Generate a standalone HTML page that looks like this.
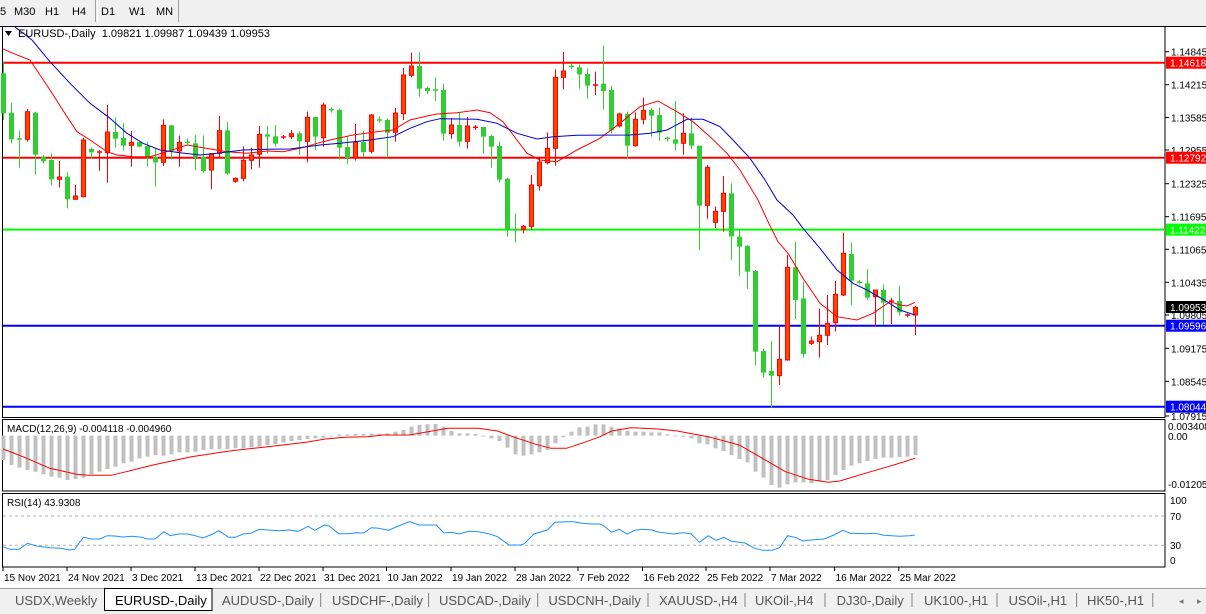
<!DOCTYPE html>
<html><head><meta charset="utf-8">
<style>
html,body{margin:0;padding:0;background:#fff;}
body{width:1206px;height:614px;overflow:hidden;position:relative;font-family:"Liberation Sans",sans-serif;}
svg{position:absolute;left:0;top:0;}
</style></head>
<body>
<svg id="s" width="1206" height="614" xmlns="http://www.w3.org/2000/svg" font-family="Liberation Sans, sans-serif"></svg>
<script>
var NS="http://www.w3.org/2000/svg",S=document.getElementById('s'),out='';
function R(x,y,w,h,f,st){out+='<rect x="'+x+'" y="'+y+'" width="'+w+'" height="'+h+'" fill="'+f+'"'+(st?' stroke="'+st+'" stroke-width="1"':'')+'/>';}
function L(x1,y1,x2,y2,c,w,d){out+='<line x1="'+x1+'" y1="'+y1+'" x2="'+x2+'" y2="'+y2+'" stroke="'+c+'" stroke-width="'+(w||1)+'"'+(d?' stroke-dasharray="'+d+'"':'')+'/>';}
function T(x,y,t,sz,c,anc){out+='<text x="'+x+'" y="'+y+'" font-size="'+(sz||11)+'" fill="'+(c||'#000')+'"'+(anc?' text-anchor="'+anc+'"':'')+'>'+t+'</text>';}
function P(pts,c,w){out+='<polyline fill="none" stroke="'+c+'" stroke-width="'+(w||1)+'" points="'+pts.map(function(p){return p[0].toFixed(1)+','+p[1].toFixed(1)}).join(' ')+'"/>';}
// toolbar
R(0,0,1206,25,'#f0f0f0');
T(0,15,'5',11,'#000');T(14,15,'M30',11);T(45,15,'H1',11);T(72,15,'H4',11);
L(95.5,0,95.5,22,'#a0a0a0');L(97.5,0,97.5,22,'#fff');
T(101,15,'D1',11);T(129,15,'W1',11);T(156,15,'MN',11);
L(178.5,0,178.5,22,'#a0a0a0');
// panels frames
R(2.5,26.5,1162.5,391,'#fff','#000');
R(2.5,419.5,1162.5,71.5,'#fff','#000');
R(2.5,493.5,1162.5,73.5,'#fff','#000');
// horizontal lines
L(3,62.7,1165,62.7,'#ff0000',2);L(3,157.7,1165,157.7,'#ff0000',2);
L(3,229.6,1165,229.6,'#00ff00',2);L(3,325.7,1165,325.7,'#0000ff',2);L(3,406.7,1165,406.7,'#0000ff',2);
// candles: type, bodyTop, bodyBot, wickTop, wickBot (zy units: y=40+v/3)
var C=[
['G',100,220,65,240],['G',218,298,188,310],['G',297,297,272,383],['R',215,298,207,305],['G',218,344,215,404],
['G',350,364,345,370],['G',360,418,340,435],['R',411,418,363,443],['G',410,478,396,505],['R',468,478,435,478],
['R',300,470,293,472],['G',327,337,322,356],['R',336,336,330,392],['R',276,338,195,428],['G',276,296,232,323],
['G',294,317,250,332],['R',307,316,273,380],['G',306,320,306,322],['G',318,352,305,380],['G',351,367,325,440],
['R',256,367,238,378],['G',256,333,255,358],['R',307,333,287,380],['G',307,307,296,313],['G',310,353,285,390],
['G',351,393,286,398],['R',341,390,341,448],['R',272,340,228,355],['G',271,401,246,404],['R',415,424,412,428],
['R',361,415,319,424],['R',345,361,323,388],['R',283,343,258,383],['G',283,290,258,341],['G',289,311,255,320],
['R',291,291,285,297],['R',281,290,270,297],['G',280,304,274,345],['R',232,304,215,367],['G',231,290,231,330],
['R',195,293,188,320],['G',209,209,202,218],['G',210,323,205,358],['G',321,354,290,372],['R',306,354,252,362],
['G',306,336,273,352],['R',225,334,222,341],['G',240,240,229,248],['G',240,278,235,352],['R',219,277,204,305],
['R',105,221,84,240],['R',78,106,38,112],['G',78,146,36,170],['G',144,153,140,162],['G',150,150,113,183],
['G',150,281,131,302],['R',255,281,234,296],['G',255,305,216,320],['R',258,304,231,326],['R',262,262,255,270],
['G',261,290,261,341],['G',288,320,285,383],['G',318,419,305,428],['G',416,569,413,590],['G',569,569,521,607],
['R',559,569,555,580],['R',435,559,405,570],['R',366,437,350,452],['R',325,368,277,373],['R',112,325,88,377],
['R',93,112,36,148],['G',79,79,72,88],['G',82,103,73,146],['G',102,137,85,176],['R',135,135,95,165],
['G',131,153,17,208],['G',150,271,138,280],['R',222,258,218,263],['G',222,317,215,355],['R',238,317,217,320],
['R',211,238,173,253],['G',210,227,203,290],['G',225,278,203,302],['G',295,295,290,305],['G',298,311,183,332],
['R',280,310,220,344],['G',280,317,233,327],['G',317,497,317,630],['R',382,496,375,536],['R',514,547,500,564],
['R',460,514,408,575],['G',460,589,430,660],['G',590,620,570,708],['G',618,695,615,747],['G',693,935,690,977],
['G',933,998,925,1013],['G',993,1007,903,1103],['R',958,1007,860,1035],['R',682,960,645,962],['G',682,780,606,837],
['G',775,942,725,953],['R',903,910,890,915],['R',886,905,806,953],['R',850,886,765,915],['R',763,848,723,875],
['R',640,765,578,768],['G',642,722,608,795],['G',727,727,720,733],['G',730,773,687,780],['R',750,770,750,860],
['G',750,788,733,855],['R',783,783,773,852],['G',783,817,738,827],['R',825,825,820,832],['R',802,825,798,885]];
function Y(v){return 40+v/3;}
C.forEach(function(c,i){
 var x=3.5+8*i, col=c[0]=='G'?'#32cd32':'#ff0000';
 L(x,Y(c[3]),x,Y(c[4]),col,1);
 var t=Y(c[1]),b=Y(c[2]);
 if(b-t<1.2){L(x-2.5,t,x+2.5,t,col,1.5);}
 else if(c[0]=='G'){R(x-2.5,t,5,b-t,'#32cd32');}
 else{R(x-2,t,4,b-t,'#ff4500','#ff0000');}
});
// MAs
var red=[[3,27],[13,40],[30,60],[50,150],[67,230],[77,275],[90,300],[107,335],[117,345],[133,350],[150,350],[167,335],[187,315],[200,322],[227,335],[247,340],[267,333],[283,335],[300,325],[317,310],[330,300],[353,285],[377,275],[393,270],[410,240],[427,228],[437,222],[457,218],[477,210],[490,218],[503,245],[517,300],[527,340],[540,360],[557,365],[577,330],[600,295],[620,250],[640,200],[658,183],[677,215],[693,245],[710,290],[727,340],[740,390],[750,440],[758,480],[768,545],[778,605],[788,640],[803,715],[820,790],[837,830],[857,840],[873,820],[890,785],[900,795],[907,798],[915,787]];
var blue=[[15,-40],[32,0],[50,65],[70,130],[90,190],[110,235],[127,280],[143,310],[160,330],[180,338],[200,345],[217,340],[243,330],[267,328],[290,327],[320,315],[340,310],[370,300],[393,290],[410,265],[427,245],[440,236],[477,238],[497,250],[517,280],[537,297],[553,290],[577,286],[630,285],[650,280],[667,270],[687,238],[703,238],[720,260],[733,300],[750,355],[765,420],[777,480],[793,525],[803,565],[820,625],[837,690],[853,730],[867,750],[887,785],[900,810],[915,825]];
P(red.map(function(p){return[p[0],Y(p[1])]}),'#ff0000',1);
P(blue.map(function(p){return[p[0],Math.max(27,Y(p[1]))]}),'#0000cd',1);
// cover MA above frame
R(0,0,1206,26,'#f0f0f0');
L(0,26.5,1206,26.5,'#000');
T(0,15,'5',11);T(14,15,'M30',11);T(45,15,'H1',11);T(72,15,'H4',11);
L(95.5,0,95.5,22,'#a0a0a0');L(97.5,0,97.5,22,'#fff');
T(101,15,'D1',11);T(129,15,'W1',11);T(156,15,'MN',11);L(178.5,0,178.5,22,'#a0a0a0');
// title
out+='<polygon points="5,31 12,31 8.5,36" fill="#000"/>';
T(18,37,'EURUSD-,Daily&#160; 1.09821 1.09987 1.09439 1.09953',11);
// price axis
[['1.14845',51.7],['1.14215',84.7],['1.13585',117.5],['1.12955',150],['1.12325',183.7],['1.11695',216.7],['1.11065',249.3],['1.10435',282.3],['1.09805',315],['1.09175',348.3],['1.08545',381.3],['1.07915',416]].forEach(function(a){L(1165,a[1],1169,a[1],'#000');T(1171,a[1]+4,a[0],10);});
[['1.14618',62.7,'#ff0000'],['1.12792',157.7,'#ff0000'],['1.11422',229.6,'#00ff00'],['1.09953',307,'#000'],['1.09596',325.7,'#0000ff'],['1.08044',406.7,'#0000ff']].forEach(function(a){R(1166,a[1]-6,40,12,a[2]);T(1170,a[1]+4,a[0],10,'#fff');});
// MACD
var hist=[135,150,158,165,170,178,185,188,195,192,188,178,170,162,155,145,140,130,125,120,122,118,112,112,110,105,103,103,102,100,100,97,95,90,87,82,78,75,72,70,68,63,58,58,57,57,56,56,55,50,45,35,30,28,27,35,48,55,55,57,62,70,78,98,118,122,118,112,105,85,67,50,37,35,28,
28,35,40,47,50,50,52,52,58,64,65,70,85,88,100,108,120,132,142,170,188,210,218,208,202,202,205,200,195,180,165,152,145,138,132,128,128,126,125,120];
var z0=415+62/3;
hist.forEach(function(v,i){var x=3.5+8*i,y=415+v/3;R(x-2,Math.min(y,z0),4,Math.max(0.8,Math.abs(y-z0)),'#c0c0c0');});
var sig4=[[8,102],[60,125],[130,160],[200,178],[230,181],[290,181],[330,170],[400,150],[500,125],[600,108],[700,95],[800,82],[850,72],[900,67],[960,65],[1000,60],[1070,60],[1170,40],[1250,40],[1300,48],[1340,65],[1400,88],[1440,100],[1480,100],[1520,85],[1568,65]];
var sig5=[[30,48],[80,38],[150,42],[200,48],[280,65],[360,90],[420,130],[480,170],[540,193],[590,202],[620,198],[700,170],[760,150],[815,130]];
P(sig4.map(function(p){return[p[0]/2.613,415+p[1]/3]}).concat(sig5.map(function(p){return[600+p[0]/2.587,415+p[1]/3]})),'#ff0000',1);
T(7,432,'MACD(12,26,9) -0.004118 -0.004960',10);
T(1168,430,'0.003408',10);T(1168,440,'0.00',10);T(1168,488,'-0.012054',10);
// RSI
L(3,516,1165,516,'#b0b0b0',1,'3,3');L(3,545.3,1165,545.3,'#b0b0b0',1,'3,3');
var r4=[[8,395],[25,403],[50,403],[72,385],[95,393],[130,398],[160,400],[180,405],[195,403],[218,367],[240,372],[260,372],[280,362],[300,363],[320,366],[345,364],[370,367],[385,372],[405,372],[428,350],[445,362],[465,357],[490,357],[510,362],[530,369],[550,360],[572,347],[597,367],[615,367],[635,357],[655,355],[678,343],[700,345],[730,347],[755,345],[780,349],[805,334],[822,346],[848,330],[860,333],[885,356],[910,356],[930,353],[950,354],[970,338],[990,340],[1015,346],[1035,336],[1070,320],[1095,330],[1120,330],[1140,330],[1160,354],[1180,352],[1200,357],[1225,349],[1250,350],[1280,357],[1300,365],[1330,390],[1360,390],[1370,386],[1395,357],[1430,345],[1450,322],[1480,320],[1500,320],[1520,325],[1545,327],[1568,327]];
var r5=[[10,333],[30,352],[50,343],[70,357],[90,346],[110,343],[135,345],[150,351],[190,357],[215,353],[235,356],[258,382],[280,362],[300,376],[320,367],[340,379],[375,384],[400,400],[420,406],[445,406],[465,398],[485,362],[505,367],[525,378],[545,375],[580,372],[605,360],[628,346],[648,355],[690,356],[710,355],[735,361],[775,364],[800,362],[815,360]];
P(r4.map(function(p){return[p[0]/2.613,415+p[1]/3]}).concat(r5.map(function(p){return[600+p[0]/2.587,415+p[1]/3]})),'#1e90ff',1);
T(7,506,'RSI(14) 43.9308',10);
T(1170,504,'100',10);T(1170,520,'70',10);T(1170,549,'30',10);T(1170,564,'0',10);
// dates
[['15 Nov 2021',3],['24 Nov 2021',67],['3 Dec 2021',131],['13 Dec 2021',195],['22 Dec 2021',259],['31 Dec 2021',323],['10 Jan 2022',386.5],['19 Jan 2022',451],['28 Jan 2022',515],['7 Feb 2022',578],['16 Feb 2022',642.5],['25 Feb 2022',706],['7 Mar 2022',770],['16 Mar 2022',834.6],['25 Mar 2022',898.8]].forEach(function(a,i){L(a[0]=='15 Nov 2021'?3:a[1],567,a[0]=='15 Nov 2021'?3:a[1],571,'#000');T(a[1]+1,581,a[0],10);});
// tabs
R(0,588,1206,26,'#f0f0f0');L(0,588.5,1206,588.5,'#a0a0a0');
R(104.5,588.5,107.5,22,'#fff','#000');
[['USDX,Weekly',15],['AUDUSD-,Daily',222],['USDCHF-,Daily',332],['USDCAD-,Daily',439],['USDCNH-,Daily',548.4],['XAUUSD-,H4',659],['UKOil-,H4',755],['DJ30-,Daily',836.6],['UK100-,H1',924],['USOil-,H1',1008.6],['HK50-,H1',1087]].forEach(function(a){T(a[1],605,a[0],13,'#555');});
T(115,605,'EURUSD-,Daily',13,'#000');
[320.7,428.6,537.7,648,745,825,912,997,1076.6,1152.8].forEach(function(x){L(x,593,x,607,'#808080');});
T(1179,604,'&#9666;',9,'#777');T(1197,604,'&#9656;',9,'#777');
S.innerHTML=out;
</script>
</body></html>
